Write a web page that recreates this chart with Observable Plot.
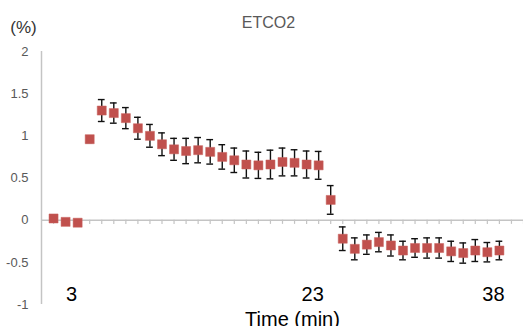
<!DOCTYPE html>
<html>
<head>
<meta charset="utf-8">
<script src="https://cdn.jsdelivr.net/npm/d3@7"></script>
<script src="https://cdn.jsdelivr.net/npm/@observablehq/plot@0.6"></script>
<style>
  html, body { margin: 0; padding: 0; background: #fff; overflow: hidden; }
</style>
</head>
<body>
<div id="chart"></div>
<script>
const time = [1,2,3,4,5,6,7,8,9,10,11,12,13,14,15,16,17,18,19,20,21,22,23,24,25,26,27,28,29,30,31,32,33,34,35,36,37,38];
const mean = [0.02,-0.02,-0.03,0.96,1.30,1.27,1.21,1.09,1.00,0.90,0.84,0.82,0.83,0.81,0.75,0.71,0.66,0.65,0.66,0.69,0.68,0.66,0.65,0.24,-0.22,-0.34,-0.29,-0.26,-0.30,-0.36,-0.33,-0.33,-0.33,-0.37,-0.39,-0.36,-0.38,-0.36];
const err = [0.015,0.01,0.01,0.04,0.13,0.12,0.125,0.13,0.135,0.135,0.13,0.15,0.15,0.145,0.145,0.145,0.16,0.155,0.17,0.165,0.155,0.16,0.165,0.17,0.14,0.13,0.115,0.115,0.125,0.11,0.11,0.12,0.12,0.12,0.12,0.13,0.115,0.11];
const yTicks = [-1,-0.5,0,0.5,1,1.5,2];
const xLabels = [3,23,38];
const xTickPositions = d3.range(1, 41);
const title = "ETCO2";
const yUnit = "(%)";
const xTitle = "Time (min)";

const data = time.map((t, i) => ({t, v: mean[i], e: err[i]}));
const capHalf = 0.28;
const font = "'Liberation Sans', Arial, sans-serif";

const chart = Plot.plot({
  width: 523,
  height: 326,
  marginLeft: 41,
  marginRight: 0,
  marginTop: 51,
  marginBottom: 22,
  style: {fontFamily: font, background: "#fff", color: "#595959", overflow: "visible"},
  x: {domain: [0, 40], axis: null},
  y: {domain: [-1, 2], label: null},
  marks: [
    Plot.axisY(yTicks, {label: null, tickSize: 0, tickPadding: 13, fontSize: 13, tickFormat: d => String(d), fill: "#595959"}),
    Plot.ruleX([0], {stroke: "#c4c4c4", strokeWidth: 1.5}),
    Plot.ruleY([0], {stroke: "#c4c4c4", strokeWidth: 1.5}),
    Plot.ruleX(xTickPositions, {x: d => d, y1: 0, y2: -0.05, stroke: "#c4c4c4", strokeWidth: 1.2}),
    Plot.ruleX(data, {x: "t", y1: d => d.v - d.e, y2: d => d.v + d.e, stroke: "#111", strokeWidth: 1.4}),
    Plot.ruleY(data, {y: d => d.v + d.e, x1: d => d.t - capHalf, x2: d => d.t + capHalf, stroke: "#111", strokeWidth: 1.4}),
    Plot.ruleY(data, {y: d => d.v - d.e, x1: d => d.t - capHalf, x2: d => d.t + capHalf, stroke: "#111", strokeWidth: 1.4}),
    Plot.dot(data, {x: "t", y: "v", symbol: "square", r: 5.1, fill: "#c0504d", stroke: "#c8625f", strokeWidth: 0.5}),
    Plot.text(xLabels, {x: d => d, frameAnchor: "bottom", lineAnchor: "bottom", dx: -6, dy: -4, text: d => String(d), fontSize: 20, fill: "#000"}),
    Plot.text([xTitle], {frameAnchor: "bottom", lineAnchor: "bottom", dx: 10, dy: 21, fontSize: 20, fill: "#000"}),
    Plot.text([title], {frameAnchor: "top", lineAnchor: "bottom", dx: -14, dy: -24, fontSize: 16, fill: "#595959"}),
    Plot.text([yUnit], {frameAnchor: "top-left", lineAnchor: "bottom", textAnchor: "middle", dx: -18, dy: -19, fontSize: 17, fill: "#333"})
  ]
});
document.getElementById("chart").appendChild(chart);
</script>
</body>
</html>
